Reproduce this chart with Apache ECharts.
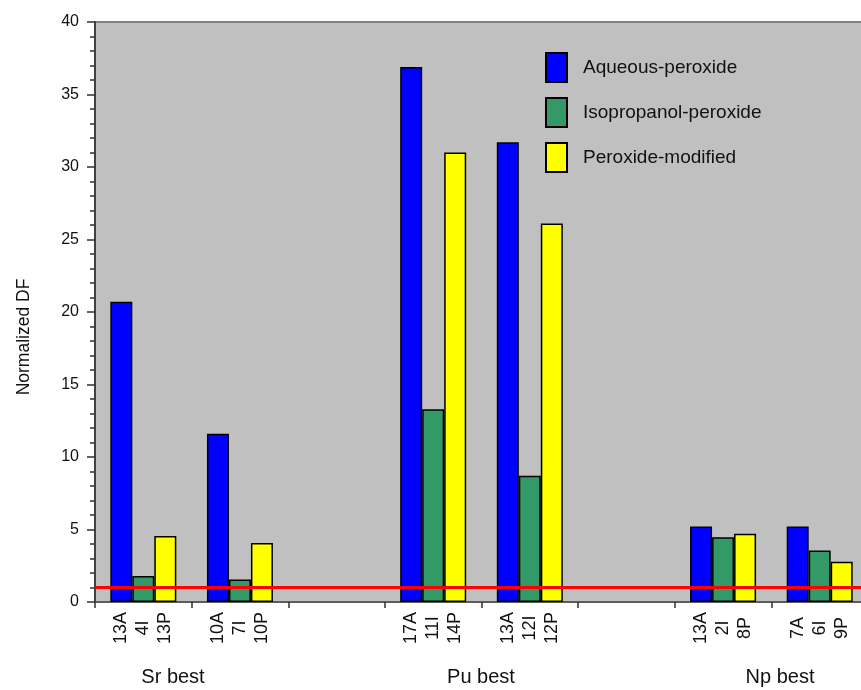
<!DOCTYPE html>
<html>
<head>
<meta charset="utf-8">
<script src="https://cdn.jsdelivr.net/npm/echarts@6/dist/echarts.min.js"></script>
<style>
html,body{margin:0;padding:0;background:#fff;overflow:hidden;}
#chart{width:880px;height:690px;}
</style>
</head>
<body>
<div id="chart"></div>
<script>
var categories = ['Sr best 1', 'Sr best 2', 'gap 1', 'Pu best 1', 'Pu best 2', 'gap 2', 'Np best 1', 'Np best 2'];
var seriesNames = ['Aqueous-peroxide', 'Isopropanol-peroxide', 'Peroxide-modified'];
var aqueous = [20.7, 11.6, '-', 36.9, 31.7, '-', 5.2, 5.2];
var isopropanol = [1.8, 1.55, '-', 13.3, 8.7, '-', 4.46, 3.56];
var peroxide = [4.55, 4.07, '-', 31.0, 26.1, '-', 4.7, 2.78];
var aqueousLabels = ['13A', '10A', '', '17A', '13A', '', '13A', '7A'];
var isopropanolLabels = ['4I', '7I', '', '11I', '12I', '', '2I', '6I'];
var peroxideLabels = ['13P', '10P', '', '14P', '12P', '', '8P', '9P'];
var groupLabels = ['Sr best', 'Pu best', 'Np best'];
var yTicks = [0, 5, 10, 15, 20, 25, 30, 35, 40];
var threshold = 1;

var FONT = 'Liberation Sans, Arial, sans-serif';
var colors = ['#0000ff', '#339966', '#ffff00'];
var allValues = [aqueous, isopropanol, peroxide];
var allLabels = [aqueousLabels, isopropanolLabels, peroxideLabels];

var chart = echarts.init(document.getElementById('chart'));

var series = allValues.map(function (vals, i) {
  var s = {
    name: seriesNames[i],
    type: 'bar',
    data: vals,
    barWidth: 22,
    barGap: '0%',
    itemStyle: { color: colors[i], borderColor: '#000', borderWidth: 1.5 },
    label: {
      show: true,
      position: 'bottom',
      distance: 26,
      rotate: 90,
      align: 'center',
      verticalAlign: 'middle',
      fontFamily: FONT,
      fontSize: 18,
      color: '#111',
      formatter: (function (labs) { return function (p) { return labs[p.dataIndex]; }; })(allLabels[i])
    },
    emphasis: { disabled: true },
    animation: false
  };
  if (i === 0) {
    s.markLine = {
      silent: true,
      symbol: 'none',
      label: { show: false },
      lineStyle: { color: '#ff0000', width: 3, type: 'solid' },
      data: [{ yAxis: threshold }],
      animation: false
    };
  }
  return s;
});

var groupPos = [173, 481, 780];
var graphics = groupLabels.map(function (t, i) {
  return {
    type: 'text',
    x: groupPos[i],
    y: 677,
    style: { text: t, fontFamily: FONT, fontSize: 20, fill: '#111', textAlign: 'center', textVerticalAlign: 'middle' }
  };
});
graphics.push({
  type: 'text',
  x: 24,
  y: 337,
  rotation: Math.PI / 2,
  style: { text: 'Normalized DF', fontFamily: FONT, fontSize: 17.5, fill: '#111', textAlign: 'center', textVerticalAlign: 'middle' }
});

chart.setOption({
  animation: false,
  backgroundColor: '#ffffff',
  grid: {
    left: 95, top: 22, width: 773, height: 580,
    show: true, backgroundColor: '#c0c0c0', borderColor: '#808080', borderWidth: 2
  },
  legend: {
    orient: 'vertical',
    left: 545,
    top: 52,
    padding: 0,
    itemWidth: 21,
    itemHeight: 29,
    itemGap: 14,
    icon: 'rect',
    selectedMode: false,
    textStyle: { fontFamily: FONT, fontSize: 19, color: '#111', padding: [0, 0, 8, 11] },
    data: seriesNames
  },
  xAxis: {
    type: 'category',
    data: categories,
    boundaryGap: true,
    axisLine: { lineStyle: { color: '#505050', width: 1.5 } },
    axisTick: { show: true, length: 6, lineStyle: { color: '#303030', width: 1.5 } },
    axisLabel: { show: false },
    splitLine: { show: false }
  },
  yAxis: {
    type: 'value',
    min: yTicks[0],
    max: yTicks[yTicks.length - 1],
    interval: 5,
    axisLine: { show: true, lineStyle: { color: '#404040', width: 2 } },
    axisTick: { show: true, length: 8, lineStyle: { color: '#303030', width: 1.5 } },
    minorTick: { show: true, splitNumber: 5, length: 5, lineStyle: { color: '#303030', width: 1.5 } },
    axisLabel: { margin: 16, fontFamily: FONT, fontSize: 16, color: '#111' },
    splitLine: { show: false }
  },
  graphic: graphics,
  series: series
});
</script>
</body>
</html>
